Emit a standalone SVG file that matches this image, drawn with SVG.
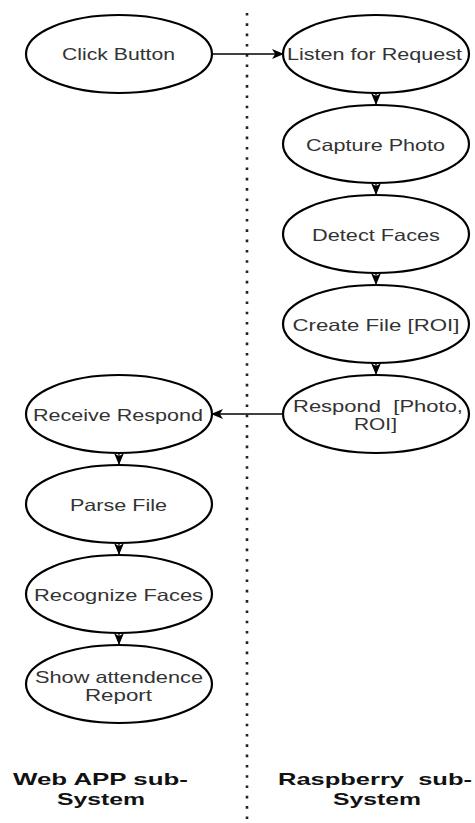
<svg xmlns="http://www.w3.org/2000/svg" width="475" height="823" viewBox="0 0 475 823">
  <style>
    .node ellipse { fill: #ffffff; stroke: #000000; stroke-width: 2.2; }
    .node text { font-family: "Liberation Sans", Arial, sans-serif; font-size: 16.5px; fill: #333333; text-anchor: middle; white-space: pre; }
    .lane { font-family: "Liberation Sans", Arial, sans-serif; font-size: 17px; font-weight: bold; fill: #111111; text-anchor: middle; white-space: pre; }
    .edge { fill: none; stroke: #000000; stroke-width: 1.3; marker-end: url(#arrow); }
    .divider { fill: none; stroke: #222222; stroke-width: 2.6; stroke-dasharray: 2.6 7.7; }
  </style>
  <defs>
    <marker id="arrow" markerUnits="userSpaceOnUse" markerWidth="13" markerHeight="11" viewBox="0 0 13 11" refX="12" refY="5.5" orient="auto">
      <path d="M0,0.5 L12,5.5 L0,10.5 L3.2,5.5 z" fill="#000000"/>
    </marker>
  </defs>

  <!-- swimlane divider -->
  <line class="divider" x1="247" y1="13" x2="247" y2="820"/>

  <!-- Raspberry sub-system -->
  <g id="listen" class="node">
    <ellipse cx="376" cy="54" rx="93" ry="39"/>
    <text x="374.5" y="60" textLength="175" lengthAdjust="spacingAndGlyphs">Listen for Request</text>
  </g>
  <g id="capture" class="node">
    <ellipse cx="376" cy="144" rx="93" ry="39"/>
    <text x="375.5" y="151" textLength="139" lengthAdjust="spacingAndGlyphs">Capture Photo</text>
  </g>
  <g id="detect" class="node">
    <ellipse cx="376" cy="234" rx="93" ry="39"/>
    <text x="376" y="241" textLength="128" lengthAdjust="spacingAndGlyphs">Detect Faces</text>
  </g>
  <g id="create" class="node">
    <ellipse cx="376" cy="324" rx="93" ry="39"/>
    <text x="376" y="331" textLength="167" lengthAdjust="spacingAndGlyphs">Create File [ROI]</text>
  </g>
  <g id="respond" class="node">
    <ellipse cx="376" cy="414" rx="93" ry="39"/>
    <text x="378" y="412" textLength="170" lengthAdjust="spacingAndGlyphs">Respond  [Photo,</text>
    <text x="375.5" y="429.5" textLength="43" lengthAdjust="spacingAndGlyphs">ROI]</text>
  </g>

  <!-- Web APP sub-system -->
  <g id="click" class="node">
    <ellipse cx="119" cy="54" rx="93" ry="39"/>
    <text x="118.5" y="60" textLength="113" lengthAdjust="spacingAndGlyphs">Click Button</text>
  </g>
  <g id="receive" class="node">
    <ellipse cx="119" cy="414" rx="93" ry="39"/>
    <text x="118" y="421" textLength="170" lengthAdjust="spacingAndGlyphs">Receive Respond</text>
  </g>
  <g id="parse" class="node">
    <ellipse cx="119" cy="504" rx="93" ry="39"/>
    <text x="118.5" y="511" textLength="97" lengthAdjust="spacingAndGlyphs">Parse File</text>
  </g>
  <g id="recognize" class="node">
    <ellipse cx="119" cy="594" rx="93" ry="39"/>
    <text x="118.5" y="601" textLength="169" lengthAdjust="spacingAndGlyphs">Recognize Faces</text>
  </g>
  <g id="report" class="node">
    <ellipse cx="119" cy="684" rx="93" ry="39"/>
    <text x="119" y="683" textLength="168" lengthAdjust="spacingAndGlyphs">Show attendence</text>
    <text x="118.5" y="700.5" textLength="67" lengthAdjust="spacingAndGlyphs">Report</text>
  </g>

  <!-- lane titles -->
  <g id="lane-web">
    <text class="lane" x="100.5" y="785" textLength="175" lengthAdjust="spacingAndGlyphs">Web APP sub-</text>
    <text class="lane" x="101" y="805" textLength="88" lengthAdjust="spacingAndGlyphs">System</text>
  </g>
  <g id="lane-pi">
    <text class="lane" x="375" y="785" textLength="194" lengthAdjust="spacingAndGlyphs">Raspberry  sub-</text>
    <text class="lane" x="377" y="805" textLength="88" lengthAdjust="spacingAndGlyphs">System</text>
  </g>

  <!-- connectors -->
  <g id="edges">
    <line class="edge" x1="212" y1="54" x2="284" y2="54"/>
    <line class="edge" x1="376" y1="93" x2="376" y2="105"/>
    <line class="edge" x1="376" y1="183" x2="376" y2="195"/>
    <line class="edge" x1="376" y1="273" x2="376" y2="285"/>
    <line class="edge" x1="376" y1="363" x2="376" y2="375"/>
    <line class="edge" x1="283" y1="414" x2="211" y2="414"/>
    <line class="edge" x1="119" y1="453" x2="119" y2="465"/>
    <line class="edge" x1="119" y1="543" x2="119" y2="555"/>
    <line class="edge" x1="119" y1="633" x2="119" y2="645"/>
  </g>
</svg>
